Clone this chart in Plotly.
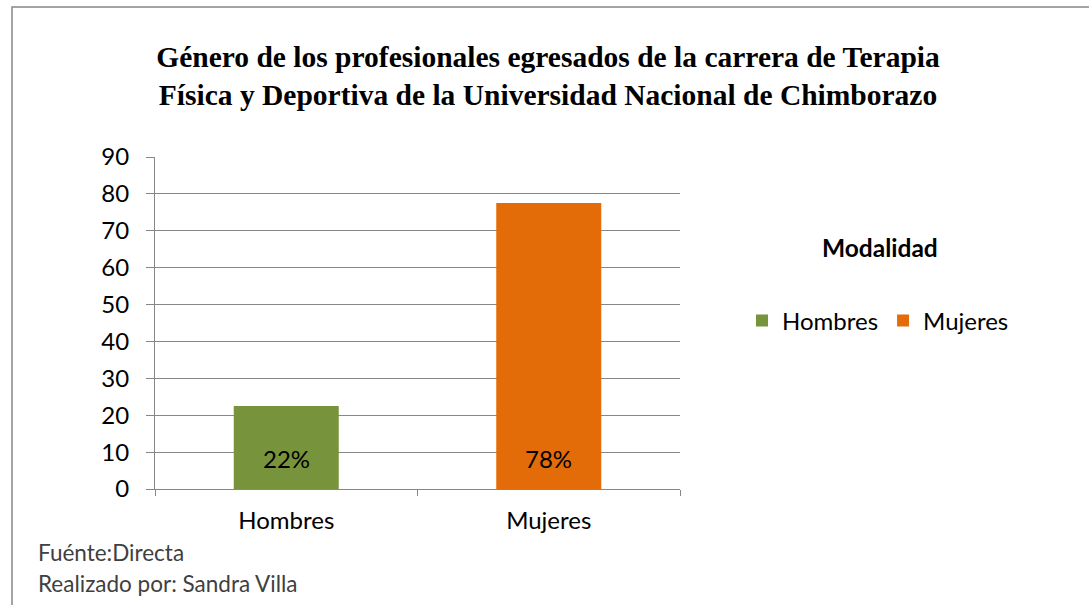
import plotly.graph_objects as go

categories = ["Hombres", "Mujeres"]
values = [22.5, 77.5]
labels = ["22%", "78%"]
colors = ["#77933C", "#E36C09"]
y_ticks = [0, 10, 20, 30, 40, 50, 60, 70, 80, 90]

W, H = 1089, 605
L, R, T, B = 155, 680, 157, 489
pw, ph = R - L, B - T
FONT = "Lato, Open Sans, sans-serif"

def px(x):
    return (x - L) / pw

def py(y):
    return (B - y) / ph

fig = go.Figure()
for c, v, col in zip(categories, values, colors):
    fig.add_trace(go.Bar(
        x=[c], y=[v], name=c, marker_color=col, marker_line_width=0,
        width=0.4, offset=-0.2,
    ))

for c, lab in zip(categories, labels):
    fig.add_annotation(x=c, y=0, text=lab, showarrow=False, yanchor="bottom",
                       yshift=14, font=dict(family=FONT, size=24, color="black"))

fig.update_layout(
    width=W, height=H,
    margin=dict(l=L, r=W - R, t=T, b=H - B),
    paper_bgcolor="white", plot_bgcolor="white",
    showlegend=True,
    barmode="overlay",
    title=dict(
        text="Género de los profesionales egresados de la carrera de Terapia<br>Física y Deportiva de la Universidad Nacional de Chimborazo",
        x=548 / W, xanchor="center", y=1 - 67 / H, yanchor="middle",
        font=dict(family="Liberation Serif, Times New Roman, serif", size=29.5, color="black", weight="bold"),
    ),
    legend=dict(
        orientation="h", x=px(742), xanchor="left", y=py(321), yanchor="middle",
        font=dict(family=FONT, size=24, color="black"),
        itemwidth=30, tracegroupgap=0, bgcolor="rgba(0,0,0,0)",
    ),
    font=dict(family=FONT, color="black"),
)

fig.update_xaxes(
    showline=True, linecolor="#878787", linewidth=1,
    ticks="outside", tickson="boundaries", ticklen=6, tickcolor="#878787",
    tickfont=dict(size=24, color="black"), showgrid=False, ticklabelstandoff=10,
)
fig.update_yaxes(
    range=[0, 90], tickvals=y_ticks, showline=True, linecolor="#878787", linewidth=1,
    ticks="outside", ticklen=8, tickcolor="#878787",
    showgrid=True, gridcolor="#878787", gridwidth=1, zeroline=False,
    tickfont=dict(size=24, color="black"), ticklabelstandoff=12,
)

fig.add_annotation(text="<b>Modalidad</b>", x=px(880), y=py(247), xref="paper", yref="paper",
                   showarrow=False, xanchor="center", yanchor="middle",
                   font=dict(family=FONT, size=24.5, color="black"))
fig.add_annotation(text="Fuénte:Directa", x=px(36), y=py(552), xref="paper", yref="paper",
                   showarrow=False, xanchor="left", yanchor="middle",
                   font=dict(family=FONT, size=22.5, color="#404040"))
fig.add_annotation(text="Realizado por: Sandra Villa", x=px(36), y=py(583), xref="paper", yref="paper",
                   showarrow=False, xanchor="left", yanchor="middle",
                   font=dict(family=FONT, size=22.5, color="#404040"))

fig.add_shape(type="rect", xref="paper", yref="paper",
              x0=px(12), x1=px(1100), y0=py(620), y1=py(7),
              line=dict(color="#878787", width=1.5), fillcolor="rgba(0,0,0,0)", layer="below")

fig.write_html("out.html", config={"displayModeBar": False},
               post_script="document.body.style.margin='0';")
